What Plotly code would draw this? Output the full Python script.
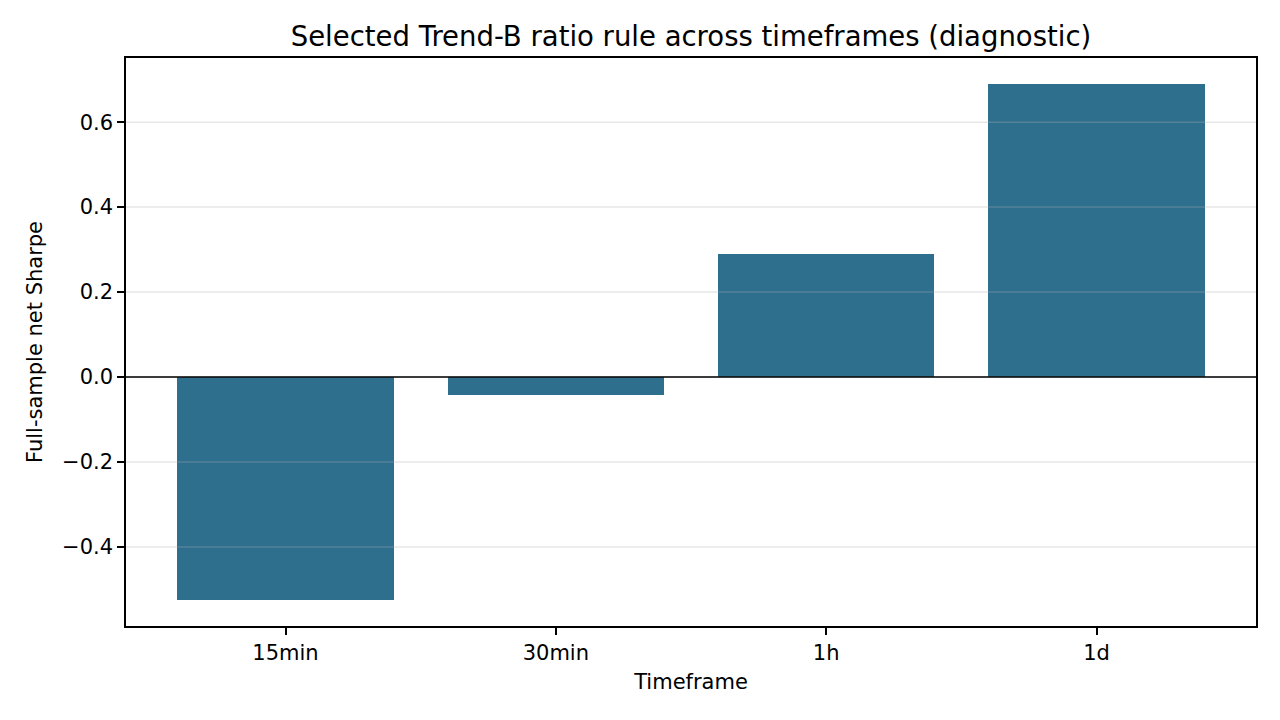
import plotly.graph_objects as go

# Valores
timeframes = ["15min", "30min", "1h", "1d"]
sharpe = [-0.525, -0.042, 0.289, 0.689]
y_ticks = [-0.4, -0.2, 0.0, 0.2, 0.4, 0.6]
y_tick_labels = ["\u22120.4", "\u22120.2", "0.0", "0.2", "0.4", "0.6"]

fonte = "DejaVu Sans"

fig = go.Figure()
fig.add_trace(go.Bar(
    x=list(range(len(timeframes))), y=sharpe,
    width=0.8, marker=dict(color="#2E6F8E", line=dict(width=0)),
    showlegend=False,
))

# grade por cima das barras (como no matplotlib com alpha)
for v in y_ticks:
    fig.add_shape(type="line", xref="paper", x0=0, x1=1, yref="y", y0=v, y1=v,
                  line=dict(color="rgba(176,176,176,0.3)", width=1.5), layer="above")

# linha do zero
fig.add_shape(type="line", xref="paper", x0=0, x1=1, yref="y", y0=0, y1=0,
              line=dict(color="black", width=1.5), layer="above")

fig.update_layout(
    width=1280, height=720,
    margin=dict(l=118, r=32, t=50, b=102),
    plot_bgcolor="white", paper_bgcolor="white",
    font=dict(family=fonte, size=21, color="black"),
    title=dict(text="Selected Trend-B ratio rule across timeframes (diagnostic)",
               x=0.5, xanchor="center", xref="paper", y=0.961, yanchor="middle",
               font=dict(size=27.5)),
    bargap=0,
    xaxis=dict(
        title=dict(text="Timeframe", standoff=10, font=dict(size=21)),
        tickfont=dict(size=21),
        tickmode="array", tickvals=list(range(len(timeframes))), ticktext=timeframes,
        range=[-0.59, 3.59],
        showline=True, linecolor="black", linewidth=1.5, mirror=True,
        ticks="outside", ticklen=7, tickwidth=1.5, tickcolor="black",
        showgrid=False, zeroline=False,
    ),
    yaxis=dict(
        title=dict(text="Full-sample net Sharpe", standoff=14, font=dict(size=21)),
        tickfont=dict(size=21),
        tickmode="array", tickvals=y_ticks, ticktext=y_tick_labels,
        range=[-0.586, 0.751],
        showline=True, linecolor="black", linewidth=1.5, mirror=True,
        ticks="outside", ticklen=7, tickwidth=1.5, tickcolor="black",
        showgrid=False, zeroline=False,
    ),
)

fig.write_html("out.html")
